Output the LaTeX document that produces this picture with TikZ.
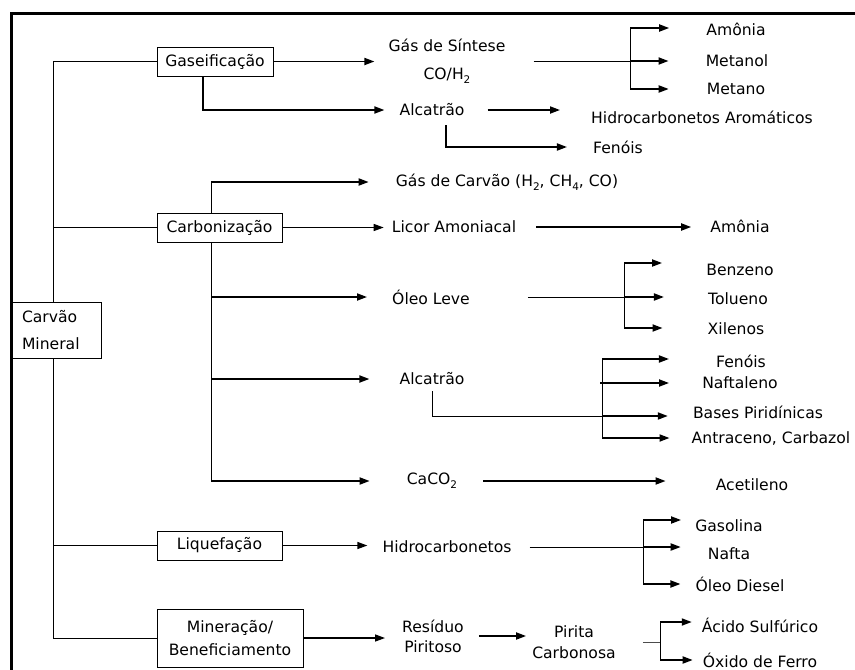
\documentclass[tikz,border=0pt]{standalone}
\usepackage{fontspec}
\setmainfont{DejaVu Sans}
\usetikzlibrary{arrows.meta}
\newcommand\chemsub[1]{\raisebox{-0.28em}{\fontsize{10.5}{10.5}\selectfont #1}}

\begin{document}
\begin{tikzpicture}[x=1pt, y=-1pt, font=\fontsize{15.6}{18}\selectfont,
  procbox/.style={draw, line width=0.9pt, fill=white, inner sep=0pt, align=center},
  lbl/.style={inner sep=0pt, align=center},
  link/.style={line width=0.9pt},
  feed/.style={line width=1.3pt, -{Triangle[length=10pt,width=7pt]}},
  flow/.style={line width=1.8pt, -{Triangle[length=10pt,width=7pt]}},
]
\useasboundingbox (0,0) rectangle (855,670);
% outer frame (top and left sides only)
\draw[line width=2.2pt] (855,13.5) -- (11.5,13.5) -- (11.5,670);

% process boxes
\node[procbox, minimum width=116, minimum height=29] (gas) at (215,61.5) {Gaseificação};
\node[procbox, minimum width=125, minimum height=29] (liq) at (219.5,545.5) {Liquefação};
\node[procbox, minimum width=146, minimum height=58] (min) at (230,638) {Mineração/\\[5pt]Beneficiamento};

% main trunk
\coordinate (tbot) at (53,638);
\draw[link] (gas.west) -| (tbot) -- (min.west);
\draw[link] (liq.west) -- (liq.west -| tbot);

% carbonisation spine
\coordinate (cv1) at (211,182);
\coordinate (cv5) at (211,481);
\draw[link] (cv1) -- (cv5);
\node[procbox, minimum width=125, minimum height=29] (carb) at (219.5,227.5) {Carbonização};
\draw[link] (carb.west) -- (carb.west -| tbot);

% source box
\node[procbox, minimum width=89, minimum height=56, text width=69, align=left] (cm) at (56.5,330) {Carvão\\[9pt]Mineral};

% intermediate products
\node[lbl] (sint) at (447,61) {Gás de Síntese\\[10pt]CO/H\chemsub{2}};
\node[lbl] (alcA) at (432,110) {Alcatrão};
\node[lbl] (gcarv) at (507,182) {Gás de Carvão (H\chemsub{2}, CH\chemsub{4}, CO)};
\node[lbl] (licor) at (454,227) {Licor Amoniacal};
\node[lbl] (oleo) at (431,297) {Óleo Leve};
\node[lbl] (alcB) at (432,379) {Alcatrão};
\node[lbl] (caco) at (432,481) {CaCO\chemsub{2}};
\node[lbl] (hidro) at (447,547) {Hidrocarbonetos};
\node[lbl] (resid) at (433,636) {Resíduo\\[2pt]Piritoso};
\node[lbl] (pirita) at (574,642.5) {Pirita\\[3pt]Carbonosa};

% end products
\node[lbl] (amo1) at (736,29) {Amônia};
\node[lbl] (metl) at (737,61) {Metanol};
\node[lbl] (metn) at (736,89) {Metano};
\node[lbl] (hidar) at (702,117) {Hidrocarbonetos Aromáticos};
\node[lbl] (fen1) at (618,147) {Fenóis};
\node[lbl] (amo2) at (740,226) {Amônia};
\node[lbl] (benz) at (740,270) {Benzeno};
\node[lbl] (tolu) at (738,299) {Tolueno};
\node[lbl] (xil) at (736,329) {Xilenos};
\node[lbl] (fen2) at (741,361) {Fenóis};
\node[lbl] (naft) at (740,383) {Naftaleno};
\node[lbl] (bases) at (758,412) {Bases Piridínicas};
\node[lbl] (antr) at (771,438) {Antraceno, Carbazol};
\node[lbl] (acet) at (752,485) {Acetileno};
\node[lbl] (gasol) at (729,526) {Gasolina};
\node[lbl] (nafta) at (729,554) {Nafta};
\node[lbl] (diesel) at (740,584) {Óleo Diesel};
\node[lbl] (acido) at (760,625) {Ácido Sulfúrico};
\node[lbl] (oxido) at (760,660) {Óxido de Ferro};

% fork points
\coordinate (b1a) at (630,28);  \coordinate (b1b) at (630,61);  \coordinate (b1c) at (630,89);
\coordinate (b2a) at (624,263); \coordinate (b2b) at (624,297); \coordinate (b2c) at (624,328);
\coordinate (b3a) at (602,359); \coordinate (b3b) at (600,383); \coordinate (b3c) at (602,416); \coordinate (b3d) at (602,438);
\coordinate (b4a) at (643,520); \coordinate (b4b) at (643,547); \coordinate (b4c) at (643,584);
\coordinate (b5a) at (660,622); \coordinate (b5c) at (660,660);

% Gaseificação
\draw[flow, shorten >=14] (gas.east) -- (gas.east -| sint.west);
\draw[flow, shorten >=15] ([xshift=-12pt]gas.south) |- (alcA.west);
\draw[link, shorten <=28] (sint.east) -- (b1b);
\draw[link] (b1a) -- (b1c);
\draw[flow, shorten >=37] (b1a) -- (b1a -| amo1.west);
\draw[flow, shorten >=37] (b1b) -- (b1b -| metl.west);
\draw[flow, shorten >=38] (b1c) -- (b1c -| metn.west);
\draw[flow, shorten <=23, shorten >=31] (alcA.east) -- (alcA.east -| hidar.west);
\draw[flow, shorten >=26] ([xshift=14pt,yshift=-9pt]alcA.south) |- (fen1.west);

% Carbonização
\draw[flow, shorten >=27] (cv1) -- (cv1 -| gcarv.west);
\draw[feed, shorten >=8] (carb.east) -- (carb.east -| licor.west);
\draw[flow, shorten <=20, shorten >=19] (licor.east) -- (licor.east -| amo2.west);
\draw[flow, shorten >=25] (oleo.west -| cv1) -- (oleo.west);
\draw[link, shorten <=58] (oleo.east) -- (b2b);
\draw[link] (b2a) -- (b2c);
\draw[flow, shorten >=44] (b2a) -- (b2a -| benz.west);
\draw[flow, shorten >=44] (b2b) -- (b2b -| tolu.west);
\draw[flow, shorten >=45] (b2c) -- (b2c -| xil.west);
\draw[flow, shorten >=30] (alcB.west -| cv1) -- (alcB.west);
\draw[link, shorten <=6] (alcB.south) |- (b3c);
\draw[link] (b3a) -- (b3d);
\draw[flow, shorten >=47] (b3a) -- (b3a -| fen2.west);
\draw[flow, shorten >=33] (b3b) -- (b3b -| naft.west);
\draw[flow, shorten >=25] (b3c) -- (b3c -| bases.west);
\draw[flow, shorten >=22] (b3d) -- (b3d -| antr.west);
\draw[flow, shorten >=37] (cv5) -- (cv5 -| caco.west);
\draw[flow, shorten <=26, shorten >=50] (caco.east) -- (caco.east -| acet.west);

% Liquefação
\draw[feed, shorten >=15] (liq.east) -- (liq.east -| hidro.west);
\draw[link, shorten <=18] (hidro.east) -- (b4b);
\draw[link] (b4a) -- (b4c);
\draw[flow, shorten >=14] (b4a) -- (b4a -| gasol.west);
\draw[flow, shorten >=27] (b4b) -- (b4b -| nafta.west);
\draw[flow, shorten >=15] (b4c) -- (b4c -| diesel.west);

% Mineração / Beneficiamento
\draw[feed, shorten >=17] (min.east) -- (min.east -| resid.west);
\draw[flow, shorten <=15, shorten >=6] (resid.east) -- (resid.east -| pirita.west);
\draw[link, draw=black!70, shorten <=27] (pirita.east) -- (pirita.east -| b5a);
\draw[link] (b5a) -- (b5c);
\draw[flow, shorten >=10] (b5a) -- (b5a -| acido.west);
\draw[flow, shorten >=10] (b5c) -- (b5c -| oxido.west);
\end{tikzpicture}
\end{document}
